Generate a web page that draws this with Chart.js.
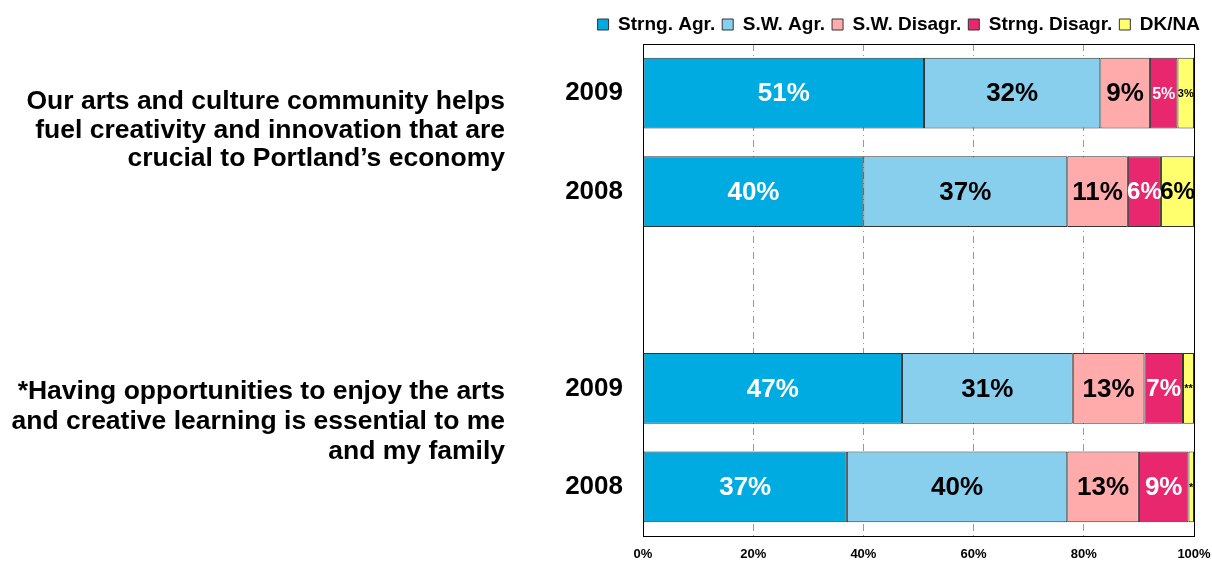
<!DOCTYPE html>
<html>
<head>
<meta charset="utf-8">
<script src="https://cdn.jsdelivr.net/npm/chart.js@4/dist/chart.umd.min.js"></script>
<style>
  html, body { margin: 0; padding: 0; background: #fff; }
  canvas { display: block; }
</style>
</head>
<body>
<canvas id="c" width="1212" height="563"></canvas>
<script>
const FONT = '"Liberation Sans", Arial, sans-serif';

// rows, top to bottom (blank row is the gap between the two statements)
const years = ['2009', '2008', '', '2009', '2008'];

const strngAgr    = [51, 40, null, 47, 37];
const swAgr       = [32, 37, null, 31, 40];
const swDisagr    = [9, 11, null, 13, 13];
const strngDisagr = [5, 6, null, 7, 9];
const dkNa        = [3, 6, null, 2, 1];
const dkNaText    = ['3%', '6%', null, '**', '*'];

const statements = [
  ['Our arts and culture community helps', 'fuel creativity and innovation that are', 'crucial to Portland\u2019s economy'],
  ['*Having opportunities to enjoy the arts', 'and creative learning is essential to me', 'and my family']
];

const xTicks = [0, 20, 40, 60, 80, 100];

const BLUE = 'rgb(0, 171, 226)';
const LBLUE = 'rgb(135, 207, 237)';
const PINK = 'rgb(255, 171, 171)';
const RED = 'rgb(233, 39, 110)';
const YELLOW = 'rgb(255, 255, 110)';

function ds(label, data, color, textColor, texts) {
  return {
    label: label,
    data: data,
    backgroundColor: color,
    borderColor: '#333',
    borderWidth: 1,
    borderSkipped: false,
    textColor: textColor,
    texts: texts
  };
}

const segLabels = {
  id: 'segLabels',
  afterDatasetsDraw(chart) {
    const ctx = chart.ctx;
    ctx.save();
    ctx.textAlign = 'center';
    ctx.textBaseline = 'middle';
    chart.data.datasets.forEach((d, i) => {
      chart.getDatasetMeta(i).data.forEach((bar, j) => {
        const v = d.data[j];
        if (v == null) return;
        const txt = d.texts ? d.texts[j] : v + '%';
        const w = Math.abs(bar.x - bar.base);
        let size = w >= 40 ? 26 : w >= 32 ? 24 : (w >= 25 ? 16 : 11);
        if (txt.indexOf('*') >= 0) size = 11;
        ctx.font = 'bold ' + size + 'px ' + FONT;
        ctx.fillStyle = d.textColor;
        ctx.fillText(txt, (bar.x + bar.base) / 2, bar.y + 1);
      });
    });
    ctx.restore();
  }
};

const frame = {
  id: 'frame',
  afterDraw(chart) {
    const a = chart.chartArea, ctx = chart.ctx;
    ctx.save();
    ctx.strokeStyle = '#000';
    ctx.lineWidth = 1;
    ctx.strokeRect(Math.round(a.left) + 0.5, Math.round(a.top) + 0.5,
      Math.round(a.right - a.left), Math.round(a.bottom - a.top));
    // statement texts, to the left of each pair of years
    const y = chart.scales.y;
    ctx.font = 'bold 26.5px ' + FONT;
    ctx.fillStyle = '#000';
    ctx.textAlign = 'right';
    ctx.textBaseline = 'middle';
    [[0, 1, -12, 28.5], [3, 4, -16, 30]].forEach((p, k) => {
      const mid = (y.getPixelForValue(p[0]) + y.getPixelForValue(p[1])) / 2 + p[2];
      statements[k].forEach((line, n) => {
        ctx.fillText(line, 505, mid + (n - 1) * p[3]);
      });
    });
    ctx.restore();
  }
};

new Chart(document.getElementById('c'), {
  type: 'bar',
  data: {
    labels: years,
    datasets: [
      ds('Strng. Agr.', strngAgr, BLUE, '#fff'),
      ds('S.W. Agr.', swAgr, LBLUE, '#000'),
      ds('S.W. Disagr.', swDisagr, PINK, '#000'),
      ds('Strng. Disagr.', strngDisagr, RED, '#fff'),
      ds('DK/NA', dkNa, YELLOW, '#000', dkNaText)
    ]
  },
  options: {
    responsive: false,
    indexAxis: 'y',
    animation: false,
    layout: { padding: { top: 8, right: 5, bottom: 0, left: 0 } },
    datasets: { bar: { categoryPercentage: 0.8, barPercentage: 0.9 } },
    scales: {
      x: {
        stacked: true,
        min: 0,
        max: 100,
        afterBuildTicks(s) { s.ticks = xTicks.map(v => ({ value: v })); },
        afterFit(s) { s.height = 27; s.paddingLeft = 0; s.paddingRight = 18; },
        ticks: {
          callback: v => v + '%',
          color: '#000',
          font: { family: FONT, size: 13, weight: 'bold' },
          padding: 11,
          maxRotation: 0
        },
        grid: {
          color: '#999',
          drawTicks: false
        },
        border: { display: false, dash: [7, 4, 1, 4] }
      },
      y: {
        stacked: true,
        afterFit(s) { s.width = 643; s.paddingTop = 0; s.paddingBottom = 0; },
        ticks: {
          color: '#000',
          font: { family: FONT, size: 26, weight: 'bold' },
          padding: 20
        },
        grid: { display: false, drawTicks: false },
        border: { display: false }
      }
    },
    plugins: {
      legend: {
        position: 'top',
        align: 'end',
        labels: {
          boxWidth: 11,
          boxHeight: 11,
          padding: 7,
          color: '#000',
          font: { family: FONT, size: 19, weight: 'bold' }
        }
      },
      tooltip: { enabled: false }
    }
  },
  plugins: [segLabels, frame]
});
</script>
</body>
</html>
